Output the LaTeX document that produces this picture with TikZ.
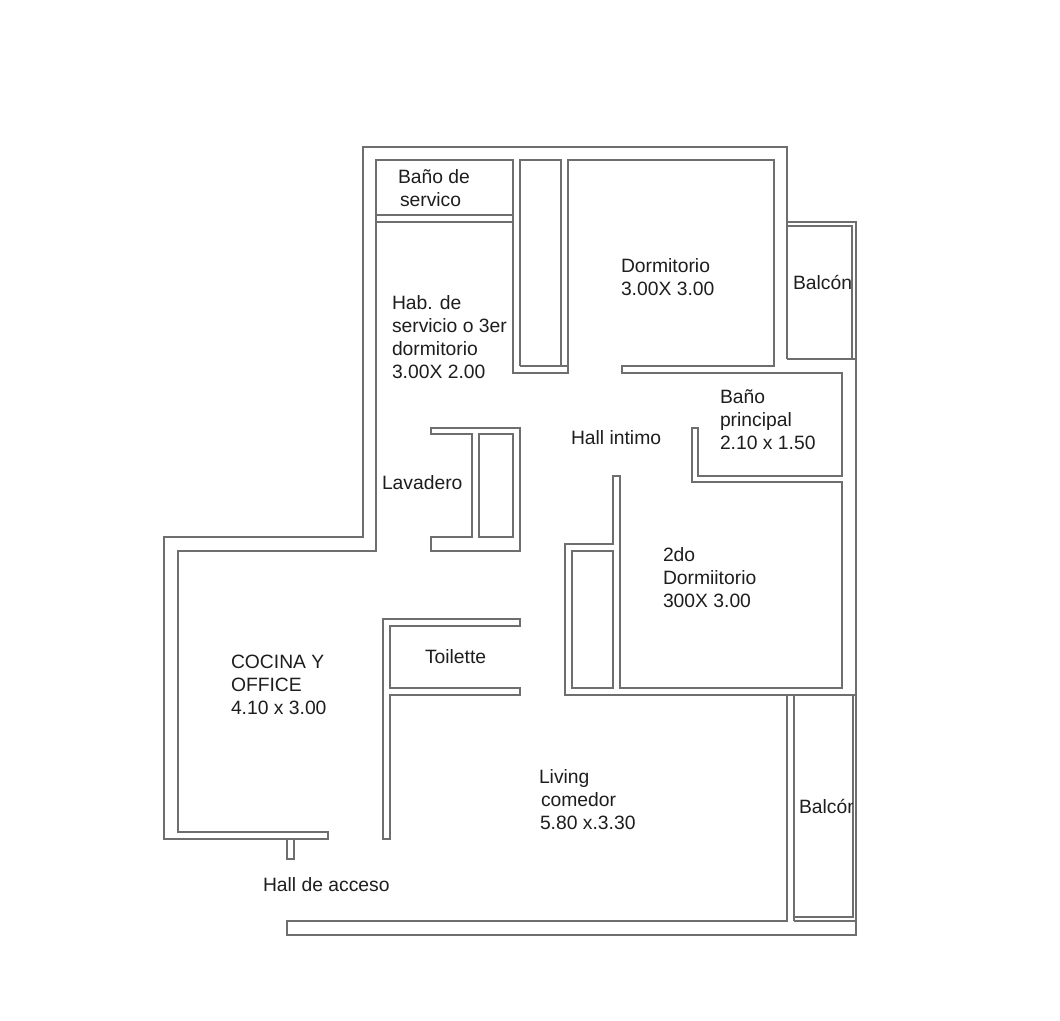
\documentclass[tikz,border=0pt]{standalone}
\usepackage{fontspec}
\setmainfont{Liberation Sans}
\definecolor{wallc}{HTML}{6E6E6E}
\definecolor{textc}{HTML}{1E1E1E}
\tikzset{
  wall/.style={draw=wallc,line width=2pt,line join=miter,line cap=butt},
  lbl/.style={anchor=north west,inner sep=0pt,outer sep=0pt,align=left,text=textc,
    font=\fontsize{19.3}{23}\selectfont}
}
\begin{document}
\begin{tikzpicture}[x=1pt,y=-1pt]
\useasboundingbox[fill=white] (0,0) rectangle (1060,1020);
% outer shell and left wing
\draw[wall] (787,359) -- (787,147) -- (363,147) -- (363,537) -- (164,537) -- (164,839) -- (328,839) -- (328,832) -- (178,832) -- (178,551) -- (376,551) -- (376,160) -- (513,160) -- (513,373) -- (568,373) -- (568,160) -- (774,160) -- (774,366) -- (622,366) -- (622,373) -- (842,373) -- (842,476) -- (698,476) -- (698,428) -- (692,428) -- (692,482) -- (842,482) -- (842,688) -- (620,688) -- (620,476) -- (613,476) -- (613,544) -- (565,544) -- (565,695) -- (787,695) -- (787,921) -- (287,921) -- (287,935) -- (856,935) -- (856,222) -- (787,222);
% service bath walls
\draw[wall] (376,215) -- (513,215);
\draw[wall] (376,222) -- (513,222);
% closet by the service room
\draw[wall] (520,366) -- (520,160) -- (561,160) -- (561,366);
\draw[wall] (520,366) -- (568,366);
% upper balcony
\draw[wall] (787,226) -- (852,226) -- (852,359) -- (787,359);
\draw[wall] (852,359) -- (856,359);
% lavadero
\draw[wall] (431,428) -- (520,428) -- (520,551) -- (431,551) -- (431,537) -- (472,537) -- (472,434) -- (431,434) -- cycle;
\draw[wall] (479,434) rectangle (513,537);
% closet of second bedroom
\draw[wall] (572,551) rectangle (613,688);
% toilet
\draw[wall] (520,619) -- (383,619) -- (383,839) -- (390,839) -- (390,695) -- (520,695) -- (520,688) -- (390,688) -- (390,626) -- (520,626) -- cycle;
% entry stub
\draw[wall] (287,839) -- (287,859) -- (294,859) -- (294,839);
% lower balcony
\draw[wall] (794,921) -- (794,695);
\draw[wall] (853,695) -- (853,917) -- (794,917);
\draw[wall] (794,921) -- (856,921);
\draw[wall] (787,695) -- (856,695);
% labels
\node[lbl] (banoserv) at (398,170) {Baño de\\\hspace*{2pt}servico};
\node[lbl] (hab) at (392,296) {Hab. de\\servicio o 3er\\dormitorio\\3.00X 2.00};
\node[lbl] (dorm) at (621,259) {Dormitorio\\3.00X 3.00};
\node[lbl] (balc) at (793,275) {Balcón};
\node[lbl] (banop) at (720,390) {Baño\\principal\\2.10 x 1.50};
\node[lbl] (hall) at (571,431) {Hall intimo};
\node[lbl] (lav) at (382,476) {Lavadero};
\node[lbl] (dorm2) at (663,548) {2do\\Dormiitorio\\300X 3.00};
\node[lbl] (toil) at (425,650) {Toilette};
\node[lbl] (coc) at (231,655) {COCINA Y\\OFFICE\\4.10 x 3.00};
\node[lbl] (liv) at (539,770) {Living\\\hspace*{2pt}comedor\\\hspace*{1pt}5.80 x.3.30};
\begin{scope}
\clip (795,780) rectangle (852,830);
\node[lbl] (balc2) at (799,799) {Balcón};
\end{scope}
\node[lbl] (hacc) at (263,878) {Hall de acceso};
\end{tikzpicture}
\end{document}
